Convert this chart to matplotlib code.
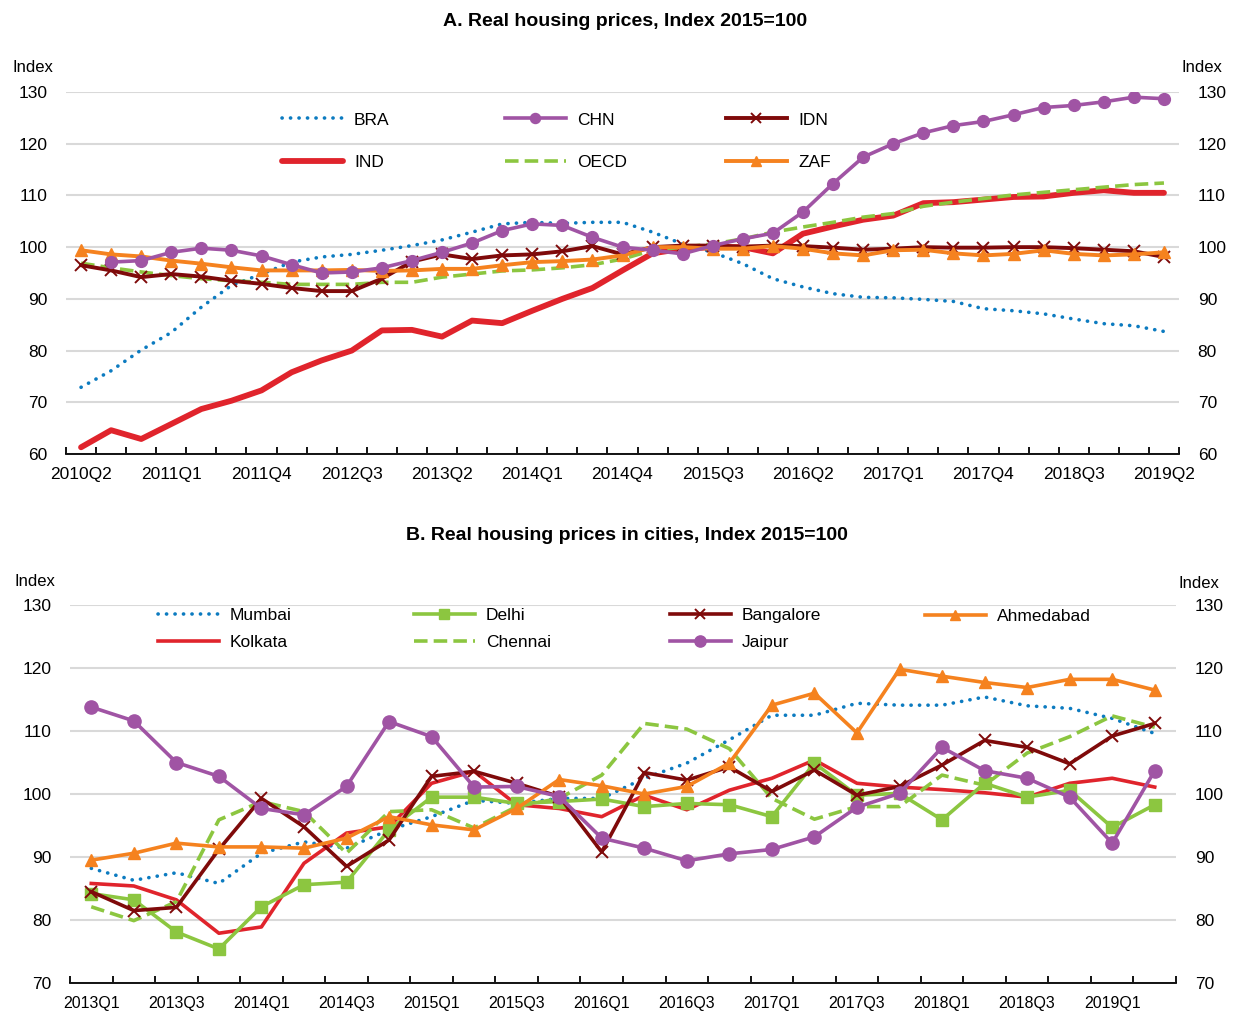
import numpy as np
import matplotlib
matplotlib.use("Agg")
import matplotlib.pyplot as plt
from matplotlib.legend import Legend

plt.rcParams['font.family'] = ['Liberation Sans', 'DejaVu Sans']

# ---- Panel A data ------------------------------------------------------------
quarters_a = [f"{y}Q{q}" for y in range(2010, 2020) for q in range(1, 5)][1:38]

bra = [72.9, 76.1, 80.1, 83.5, 88.4, 92.6, 94.8, 97.1, 98.1, 98.6, 99.4,
       100.3, 101.4, 102.9, 104.5, 104.8, 104.6, 104.8, 104.8, 102.9, 100.6,
       99.0, 96.8, 93.9, 92.3, 91.0, 90.3, 90.2, 89.9, 89.5, 88.1, 87.7,
       87.1, 86.1, 85.2, 84.8, 83.7]
chn = [np.nan, 97.1, 97.4, 99.0, 99.8, 99.4, 98.3, 96.6, 95.0, 95.2, 96.0,
       97.4, 99.0, 100.8, 103.2, 104.5, 104.2, 101.9, 100.0, 99.4, 98.7,
       100.3, 101.6, 102.7, 106.8, 112.3, 117.4, 120.0, 122.1, 123.5, 124.3,
       125.6, 127.0, 127.4, 128.1, 129.0, 128.7]
idn = [96.5, 95.5, 94.2, 94.8, 94.3, 93.5, 92.9, 92.1, 91.5, 91.5, 93.9,
       97.2, 98.6, 97.7, 98.4, 98.6, 99.2, 100.2, 98.6, 100.0, 100.3,
       100.3, 100.1, 100.3, 100.2, 99.9, 99.5, 99.7, 100.0, 99.9, 99.9,
       100.0, 100.0, 99.8, 99.5, 99.2, 98.1]
ind = [61.3, 64.6, 62.9, 65.8, 68.7, 70.3, 72.3, 75.8, 78.1, 80.0, 83.9,
       84.0, 82.7, 85.8, 85.3, 87.7, 90.0, 92.1, 95.5, 98.8, 99.7,
       100.0, 100.0, 98.8, 102.6, 104.0, 105.3, 106.1, 108.5, 108.7, 109.2,
       109.7, 109.8, 110.5, 111.0, 110.5, 110.5]
oecd = [96.9, 96.0, 95.2, 94.5, 93.9, 93.5, 93.2, 92.8, 92.8, 92.8, 93.2,
        93.2, 94.2, 94.8, 95.4, 95.6, 96.0, 96.6, 97.7, 99.4, 100.0,
        100.6, 101.6, 102.9, 103.9, 104.8, 105.8, 106.5, 107.9, 108.7, 109.4,
        110.1, 110.6, 111.1, 111.6, 112.1, 112.4]
zaf = [99.4, 98.6, 98.2, 97.4, 96.8, 96.1, 95.5, 95.5, 95.5, 95.6, 95.4,
       95.5, 95.8, 95.8, 96.5, 97.1, 97.3, 97.6, 98.4, 100.0, 100.0,
       99.7, 99.7, 100.2, 99.7, 98.8, 98.4, 99.4, 99.5, 98.8, 98.4,
       98.7, 99.4, 98.7, 98.4, 98.6, 99.0]

# ---- Panel B data ------------------------------------------------------------
quarters_b = [f"{y}Q{q}" for y in range(2013, 2020) for q in range(1, 5)][:26]

mumbai = [88.2, 86.3, 87.5, 85.8, 90.6, 92.4, 91.4, 94.3, 96.4, 99.0, 98.5,
          99.3, 99.3, 102.5, 104.9, 108.6, 112.5, 112.5, 114.4, 114.1, 114.1,
          115.4, 114.0, 113.6, 112.0, 109.6]
kolkata = [85.8, 85.4, 83.2, 77.9, 78.9, 89.0, 93.8, 94.8, 101.7, 103.6, 98.3,
           97.7, 96.4, 99.8, 97.5, 100.6, 102.5, 105.4, 101.7, 101.1, 100.7,
           100.2, 99.5, 101.7, 102.5, 101.1]
delhi = [84.2, 83.2, 78.1, 75.4, 82.1, 85.6, 86.0, 94.3, 99.5, 99.5, 98.5,
         98.8, 99.2, 98.0, 98.5, 98.3, 96.4, 104.9, 99.8, 100.1, 95.9,
         101.7, 99.5, 100.6, 94.7, 98.3]
chennai = [82.1, 79.9, 82.9, 95.9, 98.8, 97.2, 90.6, 97.2, 97.5, 94.6, 98.0,
           99.3, 103.0, 111.2, 110.3, 107.2, 99.3, 96.0, 98.0, 98.0, 103.0,
           101.4, 106.5, 109.1, 112.4, 110.6]
bangalore = [84.5, 81.5, 82.0, 91.2, 99.3, 94.8, 88.5, 92.7, 102.8, 103.6, 101.7,
             99.6, 90.8, 103.4, 102.2, 104.3, 100.4, 103.8, 99.8, 101.2, 104.6,
             108.5, 107.4, 104.8, 109.2, 111.2]
jaipur = [113.8, 111.6, 105.0, 102.8, 97.7, 96.7, 101.2, 111.5, 109.1, 101.1, 101.2,
          99.6, 93.0, 91.4, 89.4, 90.5, 91.2, 93.2, 97.9, 100.1, 107.4,
          103.7, 102.5, 99.5, 92.2, 103.7]
ahmedabad = [89.5, 90.6, 92.2, 91.6, 91.6, 91.4, 93.0, 96.4, 95.1, 94.3, 97.7,
             102.3, 101.3, 100.0, 101.2, 104.9, 114.1, 116.0, 109.7, 119.8, 118.7,
             117.7, 116.9, 118.2, 118.2, 116.5]

BLUE = '#0C7BC0'
PURPLE = '#A054A4'
DKRED = '#7F0A0A'
RED = '#E0242C'
GREEN = '#8CC640'
ORANGE = '#F5821F'

dotted = (0, (0.05, 2.3))
dashed = (0, (3.75, 1.7))

W, H = 1234, 1013
fig = plt.figure(figsize=(W / 100, H / 100), dpi=100)
ax1 = fig.add_axes([66 / W, 1 - 454 / H, 1113 / W, 362 / H])
ax2 = fig.add_axes([70 / W, 1 - 983 / H, 1106 / W, 378 / H])


def style_axis(ax, labels, step, ymin, ymax, xfont, xpad):
    n = len(labels)
    ax.set_xlim(-0.5, n - 0.5)
    ax.set_ylim(ymin, ymax)
    ax.set_yticks(np.arange(ymin, ymax + 1, 10))
    ax.yaxis.grid(True, color='#D9D9D9', linewidth=1.5)
    ax.set_axisbelow(True)
    for s in ['top', 'left', 'right']:
        ax.spines[s].set_visible(False)
    ax.spines['bottom'].set_color('black')
    ax.spines['bottom'].set_linewidth(1.3)
    # boundary ticks between quarters, labels at quarter centres
    ax.set_xticks(np.arange(-0.5, n, 1))
    ax.set_xticklabels([])
    ax.tick_params(axis='x', which='major', length=5, width=1.3, direction='in')
    pos = np.arange(0, n, step)
    ax.set_xticks(pos, minor=True)
    ax.set_xticklabels([labels[i] for i in pos], minor=True, fontsize=xfont)
    ax.tick_params(axis='x', which='minor', length=0, pad=xpad)
    ax.tick_params(axis='y', length=0, labelsize=12.5, labelright=True, pad=13.5)


def column_legend(ax, handles, labels, x_px, y_px, spacing):
    leg = Legend(ax, handles, labels, loc='center left',
                 bbox_to_anchor=(x_px / W, 1 - y_px / H),
                 bbox_transform=fig.transFigure, frameon=False,
                 borderpad=0, borderaxespad=0, fontsize=12.5,
                 handlelength=3.5, handletextpad=0.65,
                 labelspacing=spacing, markerscale=0.85)
    ax.add_artist(leg)


# ---- Panel A ----------------------------------------------------------------
xa = np.arange(len(quarters_a))
style_axis(ax1, quarters_a, 3, 60, 130, 12.5, 9)
h_bra, = ax1.plot(xa, bra, color=BLUE, lw=2.6, linestyle=dotted,
                  dash_capstyle='round')
h_ind, = ax1.plot(xa, ind, color=RED, lw=4.2, solid_capstyle='round')
h_oecd, = ax1.plot(xa, oecd, color=GREEN, lw=2.6, linestyle=dashed)
h_idn, = ax1.plot(xa, idn, color=DKRED, lw=2.8, marker='x', markersize=9,
                  markeredgewidth=1.4)
h_zaf, = ax1.plot(xa, zaf, color=ORANGE, lw=2.8, marker='^', markersize=8.5)
h_chn, = ax1.plot(xa, chn, color=PURPLE, lw=2.6, marker='o', markersize=8.5)

column_legend(ax1, [h_bra, h_ind], ['BRA', 'IND'], 282, 141, 1.55)
column_legend(ax1, [h_chn, h_oecd], ['CHN', 'OECD'], 505, 141, 1.55)
column_legend(ax1, [h_idn, h_zaf], ['IDN', 'ZAF'], 726, 141, 1.55)

fig.text(625 / W, 1 - 22 / H, 'A. Real housing prices, Index 2015=100',
         ha='center', va='center', fontsize=14, fontweight='bold')
fig.text(13 / W, 1 - 68 / H, 'Index', ha='left', va='center', fontsize=12)
fig.text(1222 / W, 1 - 68 / H, 'Index', ha='right', va='center', fontsize=12)

# ---- Panel B ----------------------------------------------------------------
xb = np.arange(len(quarters_b))
style_axis(ax2, quarters_b, 2, 70, 130, 11.5, 9)
h_mum, = ax2.plot(xb, mumbai, color=BLUE, lw=2.6, linestyle=dotted,
                  dash_capstyle='round')
h_kol, = ax2.plot(xb, kolkata, color=RED, lw=2.6)
h_che, = ax2.plot(xb, chennai, color=GREEN, lw=2.6, linestyle=dashed)
h_del, = ax2.plot(xb, delhi, color=GREEN, lw=2.6, marker='s', markersize=9)
h_ban, = ax2.plot(xb, bangalore, color=DKRED, lw=2.6, marker='x', markersize=9,
                  markeredgewidth=1.4)
h_ahm, = ax2.plot(xb, ahmedabad, color=ORANGE, lw=2.6, marker='^', markersize=9)
h_jai, = ax2.plot(xb, jaipur, color=PURPLE, lw=2.6, marker='o', markersize=9.5)

column_legend(ax2, [h_mum, h_kol], ['Mumbai', 'Kolkata'], 158, 629, 0.65)
column_legend(ax2, [h_del, h_che], ['Delhi', 'Chennai'], 414, 629, 0.65)
column_legend(ax2, [h_ban, h_jai], ['Bangalore', 'Jaipur'], 670, 629, 0.65)
column_legend(ax2, [h_ahm], ['Ahmedabad'], 925, 616, 0.65)

fig.text(627 / W, 1 - 535 / H, 'B. Real housing prices in cities, Index 2015=100',
         ha='center', va='center', fontsize=14, fontweight='bold')
fig.text(14 / W, 1 - 582 / H, 'Index', ha='left', va='center', fontsize=12)
fig.text(1219 / W, 1 - 584 / H, 'Index', ha='right', va='center', fontsize=12)

fig.savefig('out.png', dpi=100)
